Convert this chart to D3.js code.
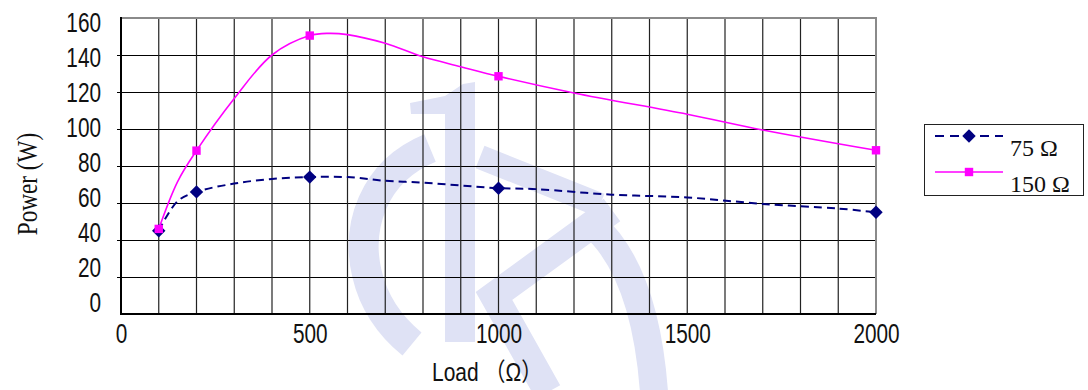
<!DOCTYPE html>
<html>
<head>
<meta charset="utf-8">
<script src="https://cdn.jsdelivr.net/npm/d3@7"></script>
<style>
  html, body { margin: 0; padding: 0; background: #fff; }
  svg { display: block; }
</style>
</head>
<body>
<svg id="chart" width="1088" height="390"></svg>
<script>
// Output power versus load resistance for two source impedances
const loads75  = [100, 150, 200, 300, 400, 500, 600, 700, 800, 900, 1000, 1100, 1300, 1500, 1700, 1900, 2000];
const power75  = [45, 61, 66, 70.5, 73, 74, 74, 72, 71, 69.5, 68, 67.5, 64.5, 63, 59.5, 57, 55];
const loads150 = [100, 150, 200, 300, 400, 500, 550, 600, 700, 800, 900, 1000, 1200, 1500, 1700, 2000];
const power150 = [46, 71.6, 88.3, 116.5, 140, 150.5, 151.7, 151, 146.3, 139, 133.7, 128.5, 119.5, 108, 99.5, 88.5];
const markerLoads = [100, 200, 500, 1000, 2000];
const xTicks = [0, 500, 1000, 1500, 2000];
const yTicks = [0, 20, 40, 60, 80, 100, 120, 140, 160];
const seriesNames = ["75 \u03A9", "150 \u03A9"];
const xTitle = "Load \uFF08\u03A9\uFF09";
const yTitle = "Power (W)";

const NAVY = "#000080", MAGENTA = "#FF00FF";
const svg = d3.select("#chart");

const x = d3.scaleLinear().domain([0, 2000]).range([121, 876]);
const y = d3.scaleLinear().domain([0, 160]).range([314, 18]);
// tick labels sit on their own, slightly compressed vertical scale
const yLab = d3.scaleLinear().domain([0, 160]).range([302, 22]);

// faint emblem behind the plot
const EMB = "#dfe2f5";
const emblem = svg.append("g").attr("fill", "none").attr("stroke", EMB);
emblem.append("path").attr("fill", EMB).attr("stroke", "none")
  .attr("d", "M463,84 L475,82 L475,342 L445,342 L445,114 L411,114 L410,103 L445,96 Z");
emblem.append("path").attr("stroke-width", 30)
  .attr("d", "M430,148 C372,172 356,228 367,274 C374,304 390,326 412,344");
emblem.append("path").attr("stroke-width", 24)
  .attr("d", "M480,157 L600,205");
emblem.append("path").attr("stroke-width", 28).attr("stroke-linejoin", "miter")
  .attr("d", "M612,210 L494,296 L548,392");
emblem.append("path").attr("stroke-width", 28)
  .attr("d", "M592,224 Q645,270 654,392");

// grid
const grid = svg.append("g");
grid.selectAll("line.h").data(d3.range(20, 160, 20)).join("line")
  .attr("x1", 117).attr("x2", x(2000))
  .attr("y1", d => Math.round(y(d)) + 0.5).attr("y2", d => Math.round(y(d)) + 0.5)
  .attr("stroke", "#000").attr("stroke-width", 1);
grid.selectAll("line.v").data(d3.range(100, 2000, 100)).join("line")
  .attr("x1", d => x(d)).attr("x2", d => x(d))
  .attr("y1", y(160)).attr("y2", y(0))
  .attr("stroke", "#222").attr("stroke-width", 1.2);

// frame: gray top/right, black axes left/bottom
svg.append("line").attr("x1", x(0)).attr("x2", x(2000) + 1).attr("y1", y(160)).attr("y2", y(160))
  .attr("stroke", "#8a8a8a").attr("stroke-width", 2);
svg.append("line").attr("x1", x(2000)).attr("x2", x(2000)).attr("y1", y(160)).attr("y2", y(0))
  .attr("stroke", "#8a8a8a").attr("stroke-width", 2);
svg.append("line").attr("x1", x(0)).attr("x2", x(0)).attr("y1", y(160) - 1).attr("y2", y(0) + 1)
  .attr("stroke", "#000").attr("stroke-width", 2);
svg.append("line").attr("x1", x(0) - 1).attr("x2", x(2000)).attr("y1", y(0)).attr("y2", y(0))
  .attr("stroke", "#000").attr("stroke-width", 2);

// axis labels (narrow sans)
const SX = 0.77;
const xAxis = svg.append("g").attr("transform", `translate(0,${y(0)})`)
  .call(d3.axisBottom(x).tickValues(xTicks).tickSize(0).tickPadding(0).tickFormat(d3.format("d")));
xAxis.select(".domain").remove();
xAxis.selectAll("text")
  .attr("y", 29).attr("dy", 0)
  .attr("transform", `scale(${SX},1)`)
  .attr("font-family", "'Liberation Sans', Arial, sans-serif").attr("font-size", 27).attr("fill", "#111");

const yAxis = svg.append("g").attr("transform", `translate(101,0)`)
  .call(d3.axisLeft(yLab).tickValues(yTicks).tickSize(0).tickPadding(0).tickFormat(d3.format("d")));
yAxis.select(".domain").remove();
yAxis.selectAll("text")
  .attr("x", 0).attr("dy", "0.36em")
  .attr("transform", `scale(${SX},1)`)
  .attr("font-family", "'Liberation Sans', Arial, sans-serif").attr("font-size", 27).attr("fill", "#111");

// titles
svg.append("text")
  .attr("transform", "translate(432,381) scale(0.84,1)")
  .attr("font-family", "'Liberation Sans', Arial, 'Noto Sans CJK SC', sans-serif")
  .attr("font-size", 25).attr("fill", "#111")
  .text(xTitle);
svg.append("text")
  .attr("transform", "translate(37,184) rotate(-90) scale(0.8,1)")
  .attr("text-anchor", "middle")
  .attr("font-family", "'Liberation Serif', 'Times New Roman', serif")
  .attr("font-size", 29).attr("fill", "#111")
  .text(yTitle);

// series
const series = [
  { name: seriesNames[0], loads: loads75, power: power75, color: NAVY, dash: "8,5", width: 2, shape: d3.symbolDiamond2, size: 115 },
  { name: seriesNames[1], loads: loads150, power: power150, color: MAGENTA, dash: null, width: 1.6, shape: d3.symbolSquare2, size: 90 }
];

const line = d3.line().x(d => x(d[0])).y(d => y(d[1])).curve(d3.curveCatmullRom.alpha(0.5));

series.forEach(s => {
  const pts = s.loads.map((l, i) => [l, s.power[i]]);
  svg.append("path").datum(pts)
    .attr("d", line).attr("fill", "none")
    .attr("stroke", s.color).attr("stroke-width", s.width)
    .attr("stroke-dasharray", s.dash);
});
series.forEach(s => {
  const pts = s.loads.map((l, i) => [l, s.power[i]]).filter(p => markerLoads.includes(p[0]));
  svg.append("g").selectAll("path").data(pts).join("path")
    .attr("transform", d => `translate(${x(d[0])},${y(d[1])})`)
    .attr("d", d3.symbol().type(s.shape).size(s.size))
    .attr("fill", s.color).attr("stroke", "none");
});

// legend
const lg = svg.append("g");
lg.append("rect").attr("x", 924.5).attr("y", 124.5).attr("width", 159).attr("height", 71)
  .attr("fill", "#fff").attr("stroke", "#222").attr("stroke-width", 1);
series.forEach((s, i) => {
  const cy = 136 + i * 36;
  lg.append("line").attr("x1", 935).attr("x2", 1003).attr("y1", cy).attr("y2", cy)
    .attr("stroke", s.color).attr("stroke-width", s.width).attr("stroke-dasharray", s.dash ? "9,6" : null);
  lg.append("path").attr("transform", `translate(969,${cy})`)
    .attr("d", d3.symbol().type(s.shape).size(s.size)).attr("fill", s.color);
  lg.append("text").attr("x", 1010).attr("y", cy + 19.5)
    .attr("font-family", "'Liberation Serif', 'Times New Roman', serif")
    .attr("font-size", 24).attr("fill", "#111")
    .text(s.name);
});
</script>
</body>
</html>
